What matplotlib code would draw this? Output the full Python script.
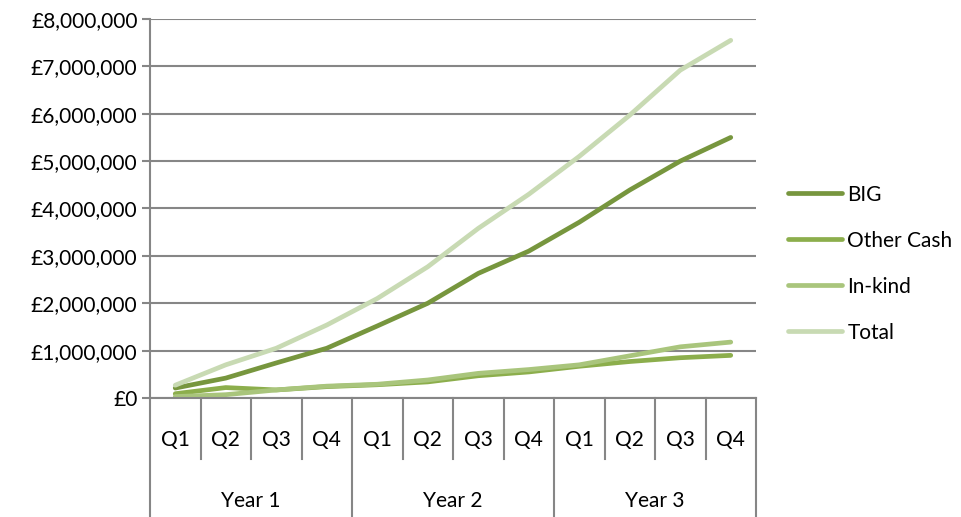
import matplotlib.pyplot as plt
import matplotlib.transforms as mtransforms
from matplotlib.ticker import FuncFormatter

plt.rcParams['font.family'] = ['Lato', 'DejaVu Sans']

quarters = ['Q1', 'Q2', 'Q3', 'Q4'] * 3
years = ['Year 1', 'Year 2', 'Year 3']

big = [210000, 420000, 740000, 1050000, 1520000, 2000000, 2630000, 3100000,
       3710000, 4390000, 5000000, 5500000]
other_cash = [90000, 220000, 170000, 240000, 280000, 340000, 470000, 550000,
              670000, 770000, 850000, 900000]
in_kind = [30000, 70000, 170000, 250000, 290000, 380000, 520000, 600000,
           700000, 890000, 1080000, 1180000]
total = [270000, 700000, 1050000, 1540000, 2100000, 2770000, 3580000, 4300000,
         5100000, 5970000, 6920000, 7550000]

series = [
    ('BIG', big, '#77963e'),
    ('Other Cash', other_cash, '#8cae4c'),
    ('In-kind', in_kind, '#a9c57c'),
    ('Total', total, '#c8dab3'),
]

grid_col = '#868686'
fs = 15

fig = plt.figure(figsize=(9.61, 5.17), dpi=100)
ax = fig.add_axes([150 / 961, 119 / 517, 606 / 961, 379 / 517])

x = list(range(len(quarters)))
for name, vals, col in series:
    ax.plot(x, vals, color=col, lw=3.4, label=name,
            solid_capstyle='round', solid_joinstyle='round')

ax.set_xlim(-0.5, len(quarters) - 0.5)
ax.set_ylim(0, 8000000)
ax.set_yticks(range(0, 8000001, 1000000))
ax.yaxis.set_major_formatter(FuncFormatter(lambda v, p: f'£{v:,.0f}'))
ax.tick_params(axis='y', length=6, width=1.5, color=grid_col,
               labelsize=fs, pad=3)
ax.set_xticks([])
ax.grid(axis='y', color=grid_col, lw=1.5)
ax.set_axisbelow(True)

for side in ['top', 'right']:
    ax.spines[side].set_visible(False)
for side in ['left', 'bottom']:
    ax.spines[side].set_color(grid_col)
    ax.spines[side].set_linewidth(1.5)

# two-level category axis below the plot
trans = mtransforms.blended_transform_factory(ax.transData, ax.transAxes)
for i in range(len(quarters) + 1):
    bottom = -0.314 if i % 4 == 0 else -0.161
    ax.plot([i - 0.5, i - 0.5], [0, bottom], color=grid_col, lw=1.5,
            transform=trans, clip_on=False)
for i, q in enumerate(quarters):
    ax.text(i, -0.111, q, transform=trans, ha='center', va='center',
            fontsize=fs)
for j, yr in enumerate(years):
    ax.text(j * 4 + 1.5, -0.272, yr, transform=trans, ha='center',
            va='center', fontsize=fs)

fig.legend(loc='center left', bbox_to_anchor=(788 / 961, 0.49),
           frameon=False, fontsize=fs, handlelength=2.6,
           handletextpad=0.25, labelspacing=1.25, borderpad=0,
           borderaxespad=0)

fig.savefig('out.png', dpi=100)
